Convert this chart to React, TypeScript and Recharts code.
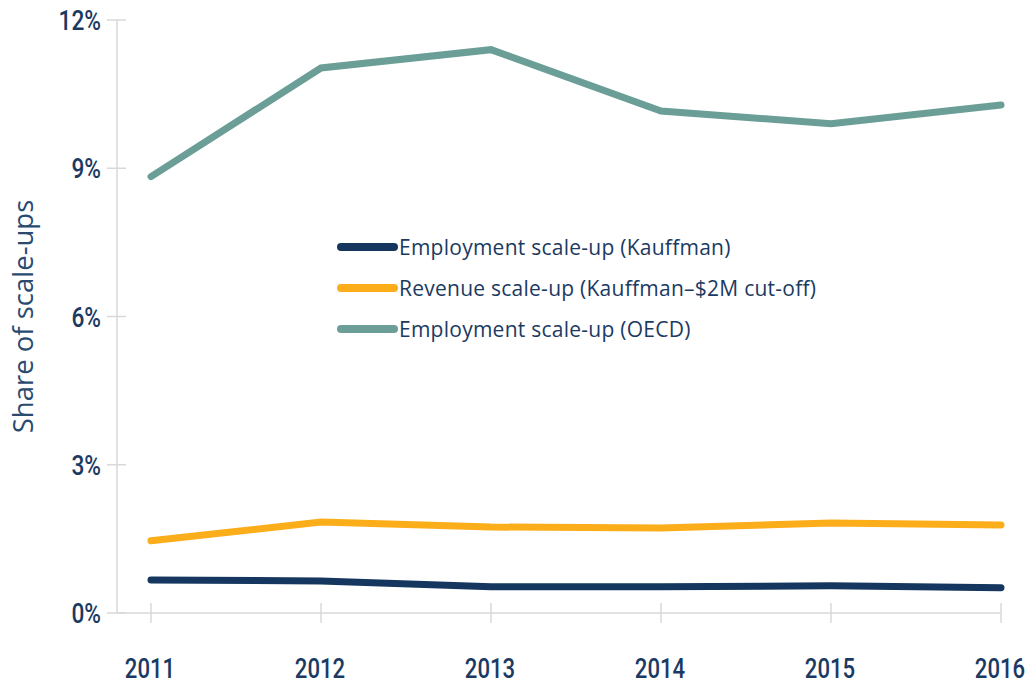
import React from 'react';
import { LineChart, Line, XAxis, YAxis, Legend } from 'recharts';

const years = ['2011', '2012', '2013', '2014', '2015', '2016'];
const employmentKauffman = [0.67, 0.65, 0.53, 0.53, 0.55, 0.51];
const revenueKauffman = [1.46, 1.84, 1.74, 1.72, 1.82, 1.78];
const employmentOECD = [8.83, 11.03, 11.4, 10.16, 9.9, 10.28];
const yTicks = [0, 3, 6, 9, 12];

const seriesNames = [
  'Employment scale-up (Kauffman)',
  'Revenue scale-up (Kauffman\u2013$2M cut-off)',
  'Employment scale-up (OECD)',
];

const NAVY = '#15365e';
const ORANGE = '#fbad1a';
const TEAL = '#6b9e97';
const TEXT = '#1b3a62';
const AXIS = '#d9d9d9';

const data = years.map((year, i) => ({
  year,
  empK: employmentKauffman[i],
  revK: revenueKauffman[i],
  empO: employmentOECD[i],
}));

const XTick = (props: any) => {
  const { x, y, payload } = props;
  return (
    <g>
      <line x1={x} x2={x} y1={y - 10} y2={y + 10} stroke={AXIS} strokeWidth={1.5} />
      <text
        transform={`translate(${x - 1},${y + 65}) scale(0.82,1)`}
        textAnchor="middle"
        fill={TEXT}
        fontFamily="Roboto"
        fontWeight={500}
        fontSize={27}
      >
        {payload.value}
      </text>
    </g>
  );
};

const YTick = (props: any) => {
  const { x, y, payload } = props;
  return (
    <g>
      <line x1={x - 10} x2={x + 9} y1={y} y2={y} stroke={AXIS} strokeWidth={1.5} />
      <text
        transform={`translate(${x - 16},${y + 10}) scale(0.84,1)`}
        textAnchor="end"
        fill={TEXT}
        fontFamily="Roboto"
        fontWeight={500}
        fontSize={27}
      >
        {`${payload.value}%`}
      </text>
    </g>
  );
};

const LegendContent = (props: any) => {
  const items = [...(props.payload || [])].sort(
    (a: any, b: any) => seriesNames.indexOf(a.value) - seriesNames.indexOf(b.value)
  );
  return (
    <div style={{ display: 'flex', flexDirection: 'column' }}>
      {items.map((entry: any, i: number) => (
        <div key={i} style={{ display: 'flex', alignItems: 'center', height: 40.7 }}>
          <svg width={61} height={12} style={{ display: 'block' }}>
            <line x1={4} x2={57} y1={6} y2={6} stroke={entry.color} strokeWidth={8} strokeLinecap="round" />
          </svg>
          <span
            style={{
              fontFamily: '"Open Sans"',
              fontSize: 21,
              color: TEXT,
              marginLeft: 1,
              whiteSpace: 'nowrap',
              letterSpacing: 0.25,
            }}
          >
            {entry.value}
          </span>
        </div>
      ))}
    </div>
  );
};

const YTitle = (props: any) => {
  const vb = props.viewBox || { x: 0, y: 0, width: 0, height: 0 };
  const cx = 25;
  const cy = vb.y + vb.height / 2;
  return (
    <text
      x={cx}
      y={cy}
      transform={`rotate(-90, ${cx}, ${cy})`}
      textAnchor="middle"
      fill="#2a4a70"
      fontFamily="Open Sans"
      fontSize={27.5}
    >
      Share of scale-ups
    </text>
  );
};

export default function App() {
  return (
    <LineChart
      width={1026}
      height={677}
      data={data}
      margin={{ top: 12, right: 33, bottom: 0, left: 0 }}
    >
      <XAxis
        dataKey="year"
        padding={{ left: 34, right: 0 }}
        axisLine={{ stroke: AXIS, strokeWidth: 1.5 }}
        tickLine={false}
        tickSize={0}
        tickMargin={0}
        tick={<XTick />}
        interval={0}
        height={72}
      />
      <YAxis
        domain={[0, 12]}
        ticks={yTicks}
        width={109}
        axisLine={{ stroke: AXIS, strokeWidth: 1.5 }}
        tickLine={false}
        tickSize={0}
        tickMargin={0}
        tick={<YTick />}
        interval={0}
        label={<YTitle />}
      />
      <Legend
        layout="vertical"
        verticalAlign="middle"
        align="center"
        content={<LegendContent />}
        wrapperStyle={{ position: 'absolute', left: 329, top: 219, width: 'auto', height: 'auto' }}
      />
      <Line
        type="linear"
        dataKey="empK"
        name={seriesNames[0]}
        stroke={NAVY}
        strokeWidth={7}
        strokeLinecap="round"
        dot={false}
        activeDot={false}
        isAnimationActive={false}
      />
      <Line
        type="linear"
        dataKey="revK"
        name={seriesNames[1]}
        stroke={ORANGE}
        strokeWidth={7}
        strokeLinecap="round"
        dot={false}
        activeDot={false}
        isAnimationActive={false}
      />
      <Line
        type="linear"
        dataKey="empO"
        name={seriesNames[2]}
        stroke={TEAL}
        strokeWidth={7}
        strokeLinecap="round"
        dot={false}
        activeDot={false}
        isAnimationActive={false}
      />
    </LineChart>
  );
}
